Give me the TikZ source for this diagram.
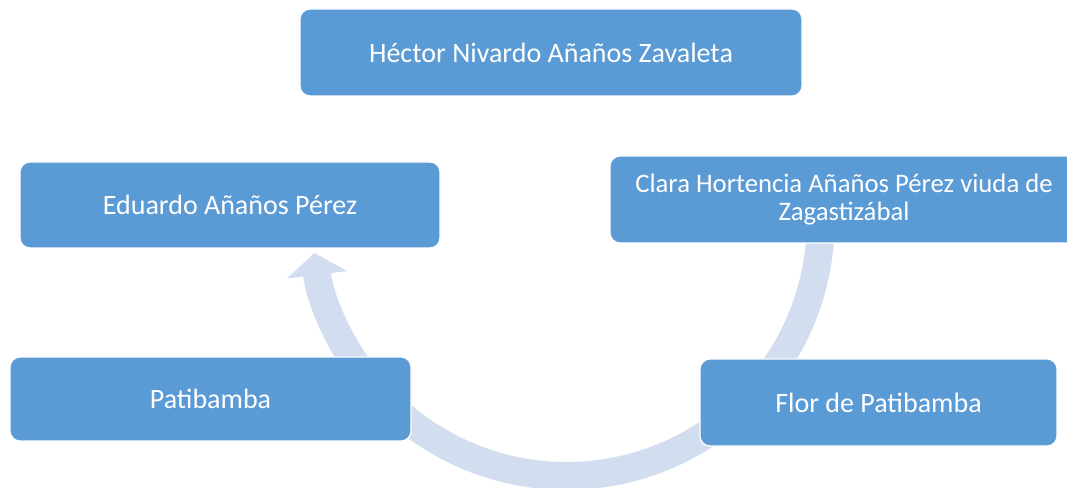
\documentclass[tikz,border=0pt]{standalone}
\usepackage{fontspec}
\setmainfont{Carlito}
\usetikzlibrary{arrows.meta,calc}
\definecolor{boxblue}{RGB}{91,155,213}
\definecolor{arcblue}{RGB}{210,222,239}
\tikzset{
  box/.style={draw=white, line width=1.2pt, fill=boxblue, rounded corners=10pt,
    text=white, font=\fontsize{28}{28.5}\selectfont, align=center,
    inner sep=0pt, anchor=center},
  cyclearc/.style={draw=arcblue, line width=28pt,
    -{Triangle[length=22pt,width=60pt]}}
}
\begin{document}
\begin{tikzpicture}[x=1pt,y=1pt]
\useasboundingbox (0,0) rectangle (1067,487);
\coordinate (c) at (566.5,265);
\coordinate (arcstart) at ($(c)+(10:254)$);
\draw[cyclearc] (arcstart) arc[start angle=10, end angle=-173, radius=254];
\node[box, minimum width=502pt, minimum height=87pt] (hector) at (551,434.5) {Héctor Nivardo Añaños Zavaleta};
\node[box, minimum width=420pt, minimum height=86pt] (eduardo) at (230,282) {Eduardo Añaños Pérez};
\node[box, minimum width=468pt, minimum height=87pt, font=\fontsize{26.7}{28.5}\selectfont] (clara) at (844,287.5) {Clara Hortencia Añaños Pérez viuda de\\Zagastizábal};
\node[box, minimum width=401pt, minimum height=84pt] (pati) at (210.5,88) {Patibamba};
\node[box, minimum width=357pt, minimum height=87pt] (flor) at (878.5,84.5) {Flor de Patibamba};
\end{tikzpicture}
\end{document}
